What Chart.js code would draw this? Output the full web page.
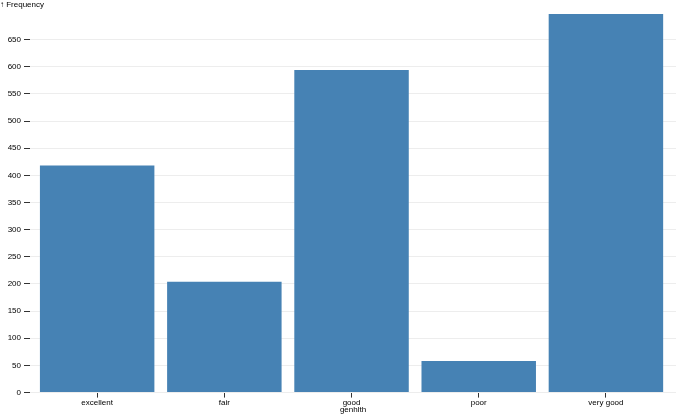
<!DOCTYPE html>
<html>
<head>
<meta charset="utf-8">
<script src="https://cdn.jsdelivr.net/npm/chart.js@4"></script>
<style>
  html, body { margin: 0; padding: 0; background: #fff; }
  #wrap { width: 690px; height: 414px; }
</style>
</head>
<body>
<div id="wrap"><canvas id="chart"></canvas></div>
<script>
const categories = ['excellent', 'fair', 'good', 'poor', 'very good'];
const frequency = [418, 204, 594, 58, 697];
const yTicks = [0, 50, 100, 150, 200, 250, 300, 350, 400, 450, 500, 550, 600, 650];

const FONT = 'Liberation Sans, Arial, sans-serif';
const SIZE = 8;

// axis labels drawn the way Plot does them
const labels = {
    id: 'labels',
    afterDraw(chart) {
        const c = chart.ctx;
        const a = chart.chartArea;
        c.save();
        c.fillStyle = '#000';
        c.font = SIZE + 'px ' + FONT;
        c.textBaseline = 'middle';
        c.textAlign = 'left';
        c.fillText('↑ Frequency', 0, 5);
        c.textAlign = 'center';
        c.fillText('genhlth', (a.left + a.right) / 2, 409.5);
        c.restore();
    }
};

const ctx = document.getElementById('chart').getContext('2d');
const chart = new Chart(ctx, {
    type: 'bar',
    data: {
        datasets: [{
            label: 'Frequency',
            data: frequency.map((v, i) => ({ x: i, y: v })),
            backgroundColor: '#4682b4',
            borderWidth: 0,
            barPercentage: 0.9,
            categoryPercentage: 1
        }]
    },
    plugins: [labels],
    options: {
        responsive: true,
        maintainAspectRatio: false,
        animation: false,
        layout: { padding: { top: 14, right: 14, left: 0, bottom: 0 } },
        scales: {
            x: {
                type: 'linear',
                offset: false,
                min: -0.528,
                max: 4.551,
                afterBuildTicks: axis => { axis.ticks = categories.map((c, i) => ({ value: i })); },
                afterFit: axis => { axis.height = 21.4; },
                border: { display: false },
                grid: { offset: false, drawOnChartArea: false, tickLength: 5, tickColor: '#333' },
                ticks: {
                    padding: 0,
                    maxRotation: 0,
                    autoSkip: false,
                    color: '#000',
                    font: { size: SIZE, family: FONT },
                    callback: v => categories[v]
                }
            },
            y: {
                min: 0,
                max: 697,
                afterBuildTicks: axis => { axis.ticks = yTicks.map(v => ({ value: v })); },
                afterFit: axis => { axis.width = 30; },
                border: { display: false },
                grid: { color: 'rgba(0,0,0,0.07)', tickLength: 6, tickColor: '#333' },
                ticks: {
                    padding: 3,
                    color: '#000',
                    font: { size: SIZE, family: FONT }
                }
            }
        },
        plugins: {
            legend: { display: false },
            tooltip: { enabled: false }
        }
    }
});
</script>
</body>
</html>
